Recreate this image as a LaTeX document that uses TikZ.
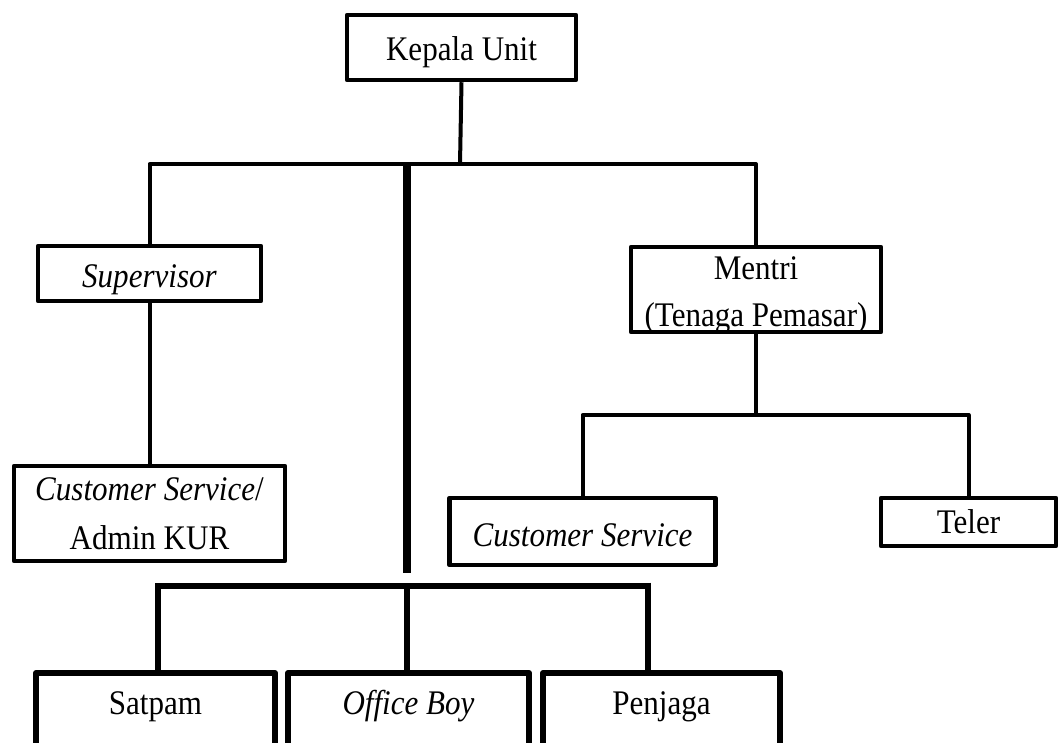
\documentclass[tikz,border=0pt]{standalone}
\usepackage{fontspec}
\setmainfont{Liberation Serif}[FakeStretch=0.9]
\newcommand{\lowered}[2]{\raisebox{-#1}[0pt][0pt]{#2}}
\begin{document}
\begin{tikzpicture}[x=1pt,y=-1pt,
  box/.style={draw=black,line width=4.5pt,line join=round,rectangle,inner sep=0pt,
    align=center,font=\fontsize{34.5}{47}\selectfont},
  lowbox/.style={draw=black,line width=6pt,line join=round,rectangle,inner xsep=0pt,inner ysep=0pt,
    anchor=north,text height=41pt,text depth=64pt,font=\fontsize{34.5}{47}\selectfont},
  conn/.style={line width=4pt,line join=round},
  thickconn/.style={line width=7.5pt},
  lowconn/.style={line width=6pt}]
\useasboundingbox (0,0) rectangle (1060,743);
\clip (0,0) rectangle (1060,743);
% top level
\node[box,minimum width=229pt,minimum height=65pt] (kepala) at (461.5,47.5) {\lowered{13.2pt}{Kepala Unit}};
\node[box,minimum width=223pt,minimum height=55pt] (sup) at (149.5,273.5) {\lowered{14.2pt}{\textit{Supervisor}}};
\node[box,minimum width=271pt,minimum height=95pt] (admin) at (149.5,513.5) {\textit{Customer Service}/\\[2pt]Admin KUR};
\node[box,minimum width=250pt,minimum height=85pt] (mentri) at (756,289.5) {\lowered{10.6pt}{\begin{tabular}{@{}c@{}}Mentri\\(Tenaga Pemasar)\end{tabular}}};
\node[box,minimum width=266pt,minimum height=67pt] (cs) at (582.5,531.5) {\lowered{14.7pt}{\textit{Customer Service}}};
\node[box,minimum width=175pt,minimum height=48pt] (teler) at (968.5,522) {Teler};
% bottom boxes
\node[lowbox,minimum width=239pt] (satpam) at (155.5,670) {Satpam};
\node[lowbox,minimum width=241pt] (office) at (408.5,670) {\textit{Office Boy}};
\node[lowbox,minimum width=237pt] (penjaga) at (661.5,670) {Penjaga};
% coordinates
\coordinate (bar) at (460,164);
\coordinate (thtop) at (407,164);
\coordinate (thbot) at (407,573);
\coordinate (bar2) at (756,415);
\coordinate (bl) at (158,585.5);
\coordinate (bm) at (407,585.5);
\coordinate (br) at (648,585.5);
% connectors
\draw[conn] (kepala.south) -- (bar);
\draw[conn] (sup.north) |- (bar) -| (mentri.north);
\draw[thickconn] (thtop) -- (thbot);
\draw[conn] (sup.south) -- (admin.north);
\draw[conn] (mentri.south) -- (bar2);
\draw[conn] (cs.north) |- (bar2) -| (teler.north);
\draw[lowconn] ([xshift=-3pt]bl) -- (br);
\draw[lowconn] (bl) -- (bl |- satpam.north);
\draw[lowconn] (bm) -- (bm |- office.north);
\draw[lowconn] ([yshift=3pt]br) -- (br |- penjaga.north);
\end{tikzpicture}
\end{document}
